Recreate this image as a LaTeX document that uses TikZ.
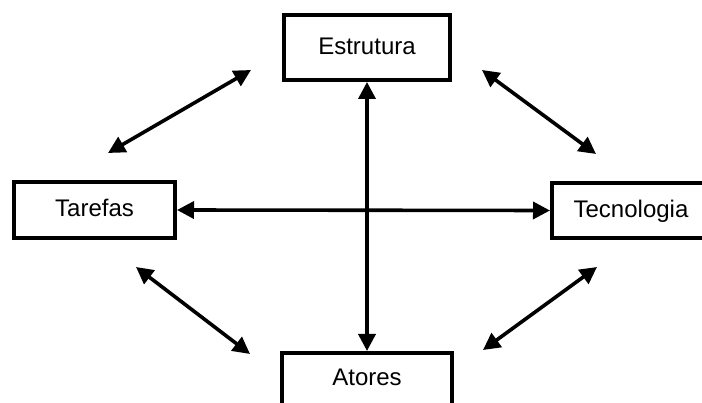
\documentclass[tikz,border=0pt]{standalone}
\usepackage{fontspec}
\setmainfont{Liberation Sans}
\usetikzlibrary{arrows.meta}
\begin{document}
\begin{tikzpicture}[x=1pt,y=-1pt,
  box/.style={draw, line width=4pt, inner sep=0pt, text height=19pt, text depth=5pt, font=\fontsize{24}{28}\selectfont},
  dbl/.style={line width=3.6pt, {Triangle[length=17pt,width=17pt]}-{Triangle[length=17pt,width=17pt]}}]
\useasboundingbox (0,0) rectangle (702,403);
\node[box, minimum width=166pt, minimum height=65pt] (E) at (367,47.5) {Estrutura};
\node[box, minimum width=161pt, minimum height=56pt] (T) at (94.5,210) {Tarefas};
\node[box, minimum width=158pt, minimum height=55pt] (C) at (631,210.5) {Tecnologia};
\node[box, minimum width=170pt, minimum height=52pt] (A) at (367,379) {Atores};
\draw[dbl] (E.south) -- (A.north);
\draw[dbl] (T.east) -- (C.west);
\coordinate (a1) at (108,153); \coordinate (a2) at (251,70);
\coordinate (b1) at (482,70); \coordinate (b2) at (596,154);
\coordinate (c1) at (136,267); \coordinate (c2) at (250,354);
\coordinate (d1) at (597,267); \coordinate (d2) at (483,350);
\draw[dbl] (a1) -- (a2);
\draw[dbl] (b1) -- (b2);
\draw[dbl] (c1) -- (c2);
\draw[dbl] (d1) -- (d2);
\end{tikzpicture}
\end{document}
